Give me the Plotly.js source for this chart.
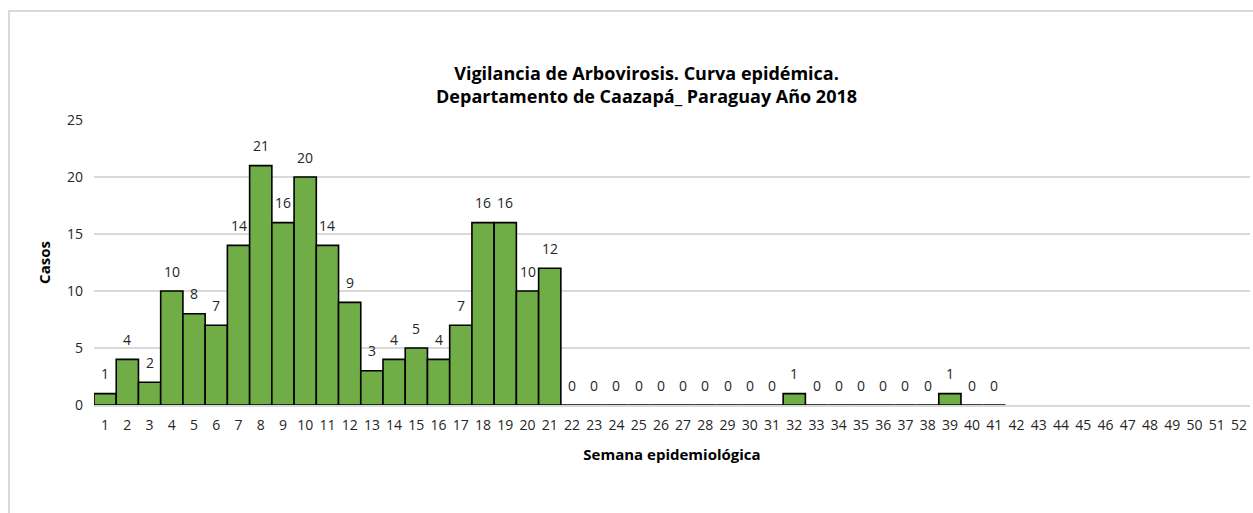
<!DOCTYPE html>
<html>
<head>
<meta charset="utf-8">
<script src="https://cdn.plot.ly/plotly-3.0.1.min.js"></script>
<style>
html,body{margin:0;padding:0;background:#fff;}
#chart{width:1253px;height:513px;}
#frame{position:absolute;left:8px;top:10px;width:1245px;height:503px;border-top:2px solid #d9d9d9;border-left:2px solid #d9d9d9;pointer-events:none;box-sizing:border-box;}
</style>
</head>
<body>
<div id="chart"></div>
<div id="frame"></div>
<script>
const weeks = Array.from({length: 52}, (_, i) => String(i + 1));
const cases = [1,4,2,10,8,7,14,21,16,20,14,9,3,4,5,4,7,16,16,10,12,
  0,0,0,0,0,0,0,0,0,0,1,0,0,0,0,0,0,1,0,0,
  null,null,null,null,null,null,null,null,null,null,null];
const titleText = "<b>Vigilancia de Arbovirosis. Curva epidémica.<br>Departamento de Caazapá_ Paraguay Año 2018</b>";
const xTitle = "<b>Semana epidemiológica</b>";
const yTitle = "<b>Casos</b>";
const yTicks = [0,5,10,15,20,25];

const FONT = "'Open Sans', 'Noto Sans', sans-serif";

const labels = [];
weeks.forEach((w, i) => {
  if (cases[i] !== null) {
    labels.push({x: i, y: cases[i], xref: 'x', yref: 'y', text: String(cases[i]),
      showarrow: false, yanchor: 'middle', xanchor: 'center', yshift: 20,
      font: {family: FONT, size: 14, color: '#262626'}});
  }
});

Plotly.newPlot('chart', [{
  type: 'bar',
  x: weeks,
  y: cases,
  marker: {color: '#70ad47', line: {color: '#000000', width: 1.6}},
  hoverinfo: 'x+y'
}], {
  width: 1253, height: 513,
  margin: {l: 94, r: 3, t: 120, b: 108},
  paper_bgcolor: '#ffffff', plot_bgcolor: '#ffffff',
  bargap: 0,
  showlegend: false,
  annotations: labels,
  title: {text: titleText, x: 0.516, xanchor: 'center', xref: 'container', y: 0.845, yanchor: 'middle',
          font: {family: FONT, size: 18, color: '#000000'}},
  xaxis: {
    type: 'category',
    tickfont: {family: FONT, size: 14, color: '#262626'},
    title: {text: xTitle, font: {family: FONT, size: 15, color: '#000000'}, standoff: 16},
    showgrid: false, showline: true, linecolor: '#d9d9d9', linewidth: 1.6,
    ticks: '', tickangle: 0, automargin: false, ticklabelstandoff: 7
  },
  yaxis: {
    range: [0, 25], tickvals: yTicks, ticktext: yTicks.map(String),
    tickfont: {family: FONT, size: 14, color: '#262626'},
    title: {text: yTitle, font: {family: FONT, size: 15, color: '#000000'}, standoff: 12},
    showgrid: true, gridcolor: '#d9d9d9', gridwidth: 1.6,
    zeroline: false, ticks: '', automargin: false, ticklabelstandoff: 10
  }
}, {displayModeBar: false, staticPlot: true});
</script>
</body>
</html>
